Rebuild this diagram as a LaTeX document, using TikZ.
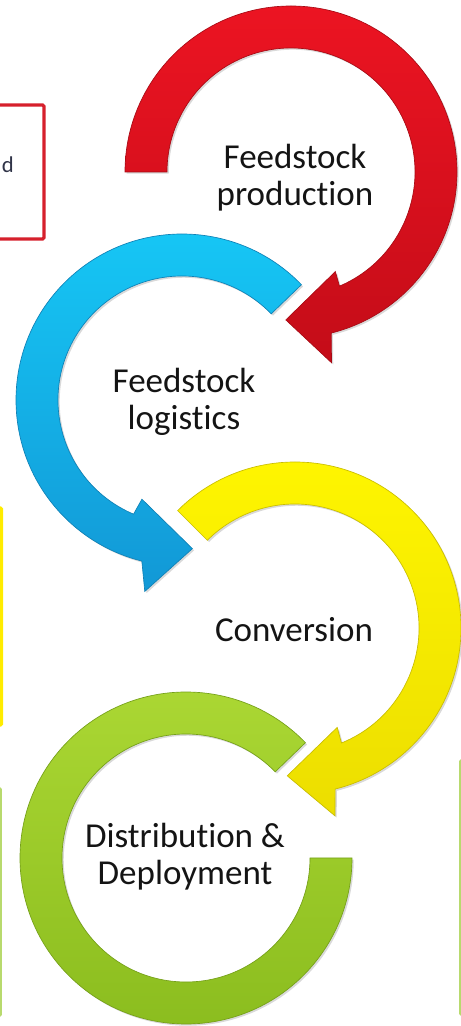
\documentclass[tikz,border=0pt]{standalone}
\usepackage{fontspec}
\setmainfont{Carlito}[Ligatures={NoCommon,NoContextual}, RawFeature={-liga;-clig;-calt}]
\usepackage{xcolor}
\usetikzlibrary{shadows}
\definecolor{redtop}{RGB}{236,20,34}
\definecolor{redbot}{RGB}{196,12,24}
\definecolor{bluetop}{RGB}{22,200,246}
\definecolor{bluebot}{RGB}{18,152,214}
\definecolor{yellowtop}{RGB}{255,246,0}
\definecolor{yellowbot}{RGB}{236,222,0}
\definecolor{greentop}{RGB}{172,216,52}
\definecolor{greenbot}{RGB}{138,188,30}
\definecolor{notered}{RGB}{214,32,44}
\definecolor{noteyellow}{RGB}{255,236,0}
\definecolor{notegreen}{RGB}{184,218,110}
\definecolor{notetext}{RGB}{48,52,72}

\begin{document}
\begin{tikzpicture}[
    x=0.75pt, y=0.75pt,
    ring/.style={line width=0.5pt, drop shadow={shadow xshift=1.3pt, shadow yshift=-1.3pt, opacity=0.3}},
    stage/.style={font=\fontsize{26.25}{27.5}\selectfont, align=center, text=black!92},
    notebox/.style={rounded corners=1pt}
]
\useasboundingbox (0,0) rectangle (461,1026);
\clip (0,0) rectangle (461,1026);

% ring centres
\coordinate (cprod) at (291,854);
\coordinate (clog) at (182,626);
\coordinate (cconv) at (295,398);
\coordinate (cdist) at (186,168);

% side boxes, only their inner edges show
\draw[notebox, notered, line width=2.4] (-60,787) rectangle (44,921);
\node[anchor=base east, inner sep=0, font=\fontsize{17}{19}\selectfont, text=notetext] (notetxt) at (14,853) {d};
\draw[notebox, noteyellow, line width=2.6] (-60,301) rectangle (1.5,518);
\draw[notebox, notegreen, line width=1.4] (-60,10) rectangle (1,238);
\draw[notebox, notegreen, line width=1.4] (460,11) rectangle (520,266);

% Ring 4: distribution (open ring, no head)
\begin{scope}[shift={(cdist)}]
\path[ring, top color=greentop, bottom color=greenbot, draw=greenbot!85!black]
    (44:166) arc[start angle=44, end angle=360, radius=166]
    -- (0:124) arc[start angle=360, end angle=44, radius=124] -- cycle;
\end{scope}

% Ring 3: conversion (clockwise)
\begin{scope}[shift={(cconv)}]
\path[ring, top color=yellowtop, bottom color=yellowbot, draw=yellowbot!85!black]
    (135:166) arc[start angle=135, end angle=-76, radius=166]
    -- (-78:192) -- (-93:148) -- (-67:108) -- (-68:124)
    arc[start angle=-68, end angle=135, radius=124] -- cycle;
\end{scope}

% Ring 2: logistics (counter-clockwise)
\begin{scope}[shift={(clog)}]
\path[ring, top color=bluetop, bottom color=bluebot, draw=bluebot!85!black]
    (44:166) arc[start angle=44, end angle=256, radius=166]
    -- (259:195) -- (274:149) -- (248:107) -- (247:124)
    arc[start angle=247, end angle=44, radius=124] -- cycle;
\end{scope}

% Ring 1: production (clockwise)
\begin{scope}[shift={(cprod)}]
\path[ring, top color=redtop, bottom color=redbot, draw=redbot!85!black]
    (180:166) arc[start angle=180, end angle=-76, radius=166]
    -- (-78:195) -- (-92:148) -- (-66:109) -- (-67:124)
    arc[start angle=-67, end angle=180, radius=124] -- cycle;
\end{scope}

% stage labels
\node[stage] (prod) at (295,848) {Feedstock\\production};
\node[stage] (logi) at (184,624) {Feedstock\\logistics};
\node[stage] (conv) at (294,396) {Conversion};
\node[stage] (dist) at (185,169) {Distribution \&\\Deployment};

\end{tikzpicture}
\end{document}
